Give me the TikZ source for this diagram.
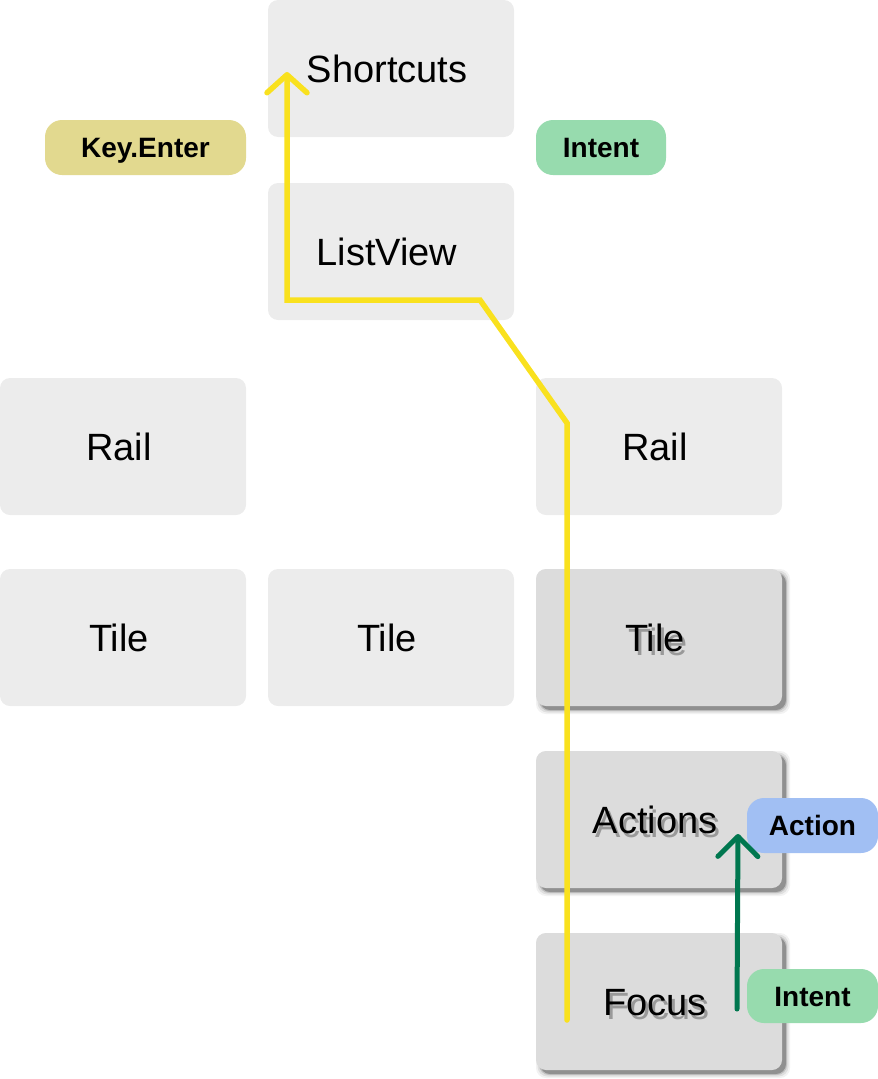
\documentclass[tikz,border=0pt]{standalone}
\usepackage{fontspec}
\setmainfont{Liberation Sans}
\usetikzlibrary{arrows.meta}
\definecolor{boxlight}{HTML}{ECECEC}
\definecolor{boxdark}{HTML}{DCDCDC}
\definecolor{pillyellow}{HTML}{E2D98F}
\definecolor{pillgreen}{HTML}{97DBAE}
\definecolor{pillblue}{HTML}{A1BFF3}
\definecolor{pathyellow}{HTML}{F9E11E}
\definecolor{pathgreen}{HTML}{00774F}
\begin{document}
\begin{tikzpicture}[x=1pt,y=-1pt,
  boxbase/.style={minimum width=246pt,minimum height=137pt,inner sep=0pt,rounded corners=10pt},
  lightbox/.style={boxbase,fill=boxlight},
  darkbox/.style={boxbase,fill=boxdark},
  shadowpart/.style={boxbase,fill=black},
  boxtext/.style={font=\fontsize{38}{40}\selectfont,inner sep=0pt,text height=27pt,text depth=0pt},
  textshadow/.style={boxtext,text=black,opacity=0.3},
  pill/.style={minimum height=55pt,inner sep=0pt,rounded corners=17pt,
    font=\fontsize{28}{30}\selectfont\bfseries,text height=20pt,text depth=0pt},
  flow/.style={line width=5.5pt,draw=pathyellow,line cap=round},
  intentflow/.style={line width=5pt,draw=pathgreen,line cap=round},
]
\useasboundingbox (0,0) rectangle (878,1079);

% centres of the boxes
\coordinate (cShortcuts) at (391,68.5);
\coordinate (cListView) at (391,251.5);
\coordinate (cRailL) at (123,446.5);
\coordinate (cRailR) at (659,446.5);
\coordinate (cTileL) at (123,637.5);
\coordinate (cTileM) at (391,637.5);
\coordinate (cTileR) at (659,637.5);
\coordinate (cActions) at (659,819.5);
\coordinate (cFocus) at (659,1001.5);

% shadows of the raised boxes
\foreach \c in {cTileR,cActions,cFocus}{
  \foreach \s/\o in {8/0.05,5/0.08,2/0.14,0/0.25}{
    \node[shadowpart,opacity=\o,minimum width=246pt+\s pt,minimum height=137pt+\s pt]
      at ([shift={(4,4)}]\c) {};
  }
}

% boxes
\node[lightbox] (shortcuts) at (cShortcuts) {};
\node[lightbox] (listview) at (cListView) {};
\node[lightbox] (railL) at (cRailL) {};
\node[lightbox] (railR) at (cRailR) {};
\node[lightbox] (tileL) at (cTileL) {};
\node[lightbox] (tileM) at (cTileM) {};
\node[darkbox] (tileR) at (cTileR) {};
\node[darkbox] (actions) at (cActions) {};
\node[darkbox] (focus) at (cFocus) {};

% texts
\node[boxtext] (shortcutsT) at ([xshift=-4pt]shortcuts.center) {Shortcuts};
\node[boxtext] (listviewT) at ([xshift=-4pt]listview.center) {ListView};
\node[boxtext] (railLT) at ([xshift=-4pt]railL.center) {Rail};
\node[boxtext] (railRT) at ([xshift=-4pt]railR.center) {Rail};
\node[boxtext] (tileLT) at ([xshift=-4pt]tileL.center) {Tile};
\node[boxtext] (tileMT) at ([xshift=-4pt]tileM.center) {Tile};
\foreach \b/\t in {tileR/Tile,actions/Actions,focus/Focus}{
  \node[textshadow] at ([shift={(-1,4)}]\b.center) {\t};
  \node[boxtext] (\b T) at ([xshift=-4pt]\b.center) {\t};
}

% pills
\node[pill,fill=pillyellow,minimum width=201pt] (keyenter) at (145.5,147.5) {Key.Enter};
\node[pill,fill=pillgreen,minimum width=130pt] (intentTop) at (601,147.5) {Intent};
\node[pill,fill=pillblue,minimum width=131pt] (action) at (812.5,825.5) {Action};
\node[pill,fill=pillgreen,minimum width=131pt,minimum height=54pt] (intentBot) at (812.5,996) {Intent};

% yellow route
\coordinate (yStart) at (567,1020);
\coordinate (yBend1) at (567,423);
\coordinate (yBend2) at (480,300);
\coordinate (yBend3) at (287,300);
\coordinate (yEnd) at (287,72);
\draw[flow,-{Straight Barb[length=18pt,width=40pt,round]}]
  (yStart) -- (yBend1) -- (yBend2) -- (yBend3) -- (yEnd);

% green arrow
\coordinate (gStart) at (737,1009);
\coordinate (gEnd) at (738,834);
\draw[intentflow,-{Straight Barb[length=20pt,width=40pt,round]}] (gStart) -- (gEnd);
\end{tikzpicture}
\end{document}
